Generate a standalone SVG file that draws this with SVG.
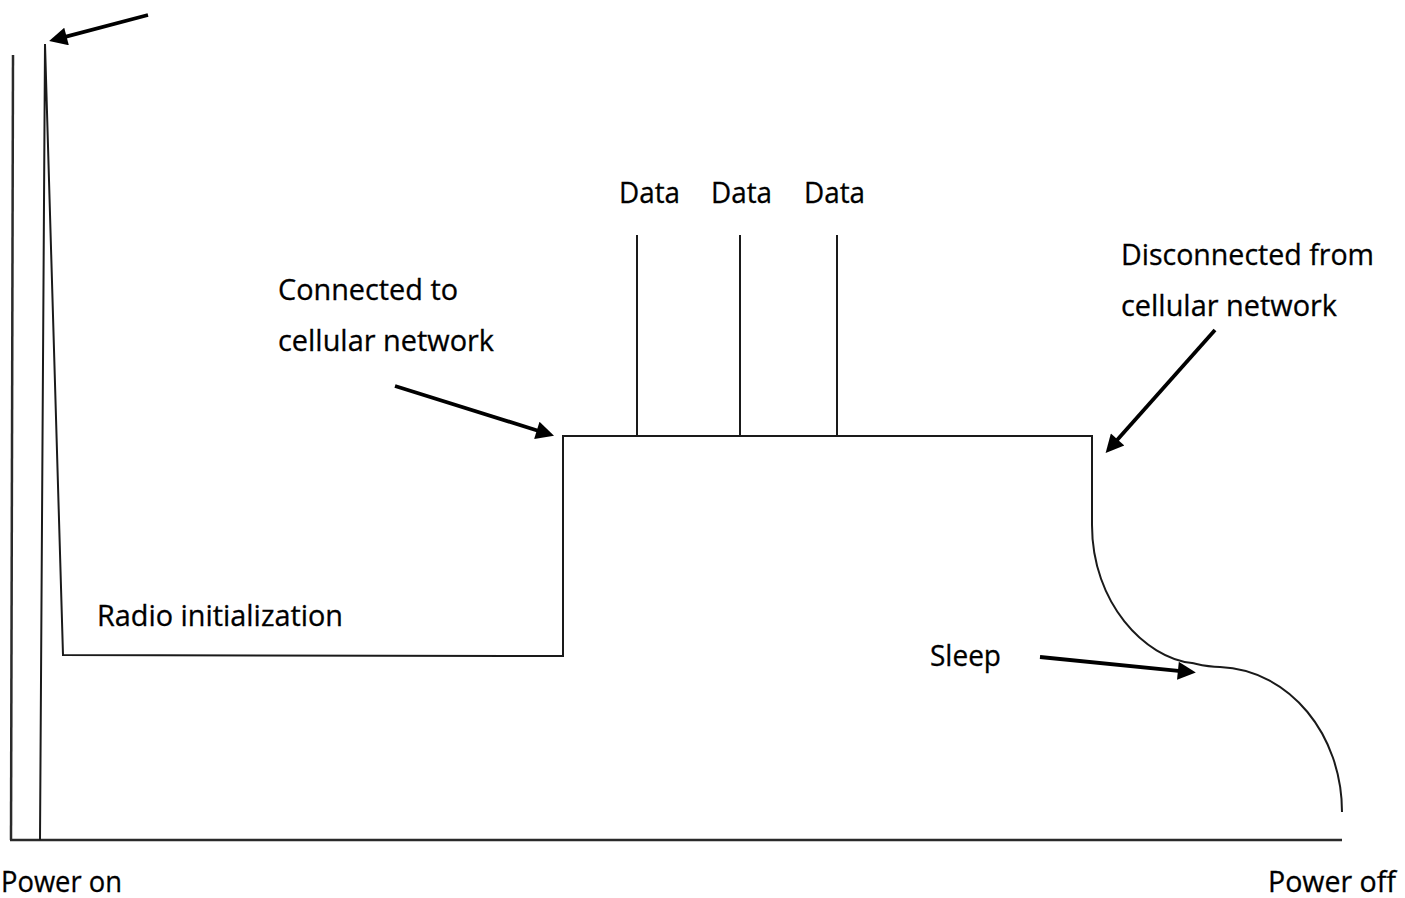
<svg xmlns="http://www.w3.org/2000/svg" width="1405" height="898" viewBox="0 0 1405 898">
<style>
.ln{fill:none;stroke:#1a1a1a;stroke-width:2;stroke-linejoin:miter}
.ax{fill:none;stroke:#2a2a2a;stroke-width:2.5}
.ar{fill:none;stroke:#000;stroke-width:3.8;marker-end:url(#ah)}
.t{font-family:"Open Sans","Noto Sans","Liberation Sans",sans-serif;font-size:29px;fill:#000;stroke:#000;stroke-width:0.3}
</style>
<defs>
<marker id="ah" viewBox="0 0 10 10" refX="3" refY="5" markerWidth="24" markerHeight="18" markerUnits="userSpaceOnUse" orient="auto">
<path d="M0,0 L10,5 L0,10 z" fill="#000"/>
</marker>
</defs>
<rect width="1405" height="898" fill="#fff"/>
<g id="axes">
<line class="ax" x1="13" y1="55" x2="11" y2="840"/>
<line class="ax" x1="10" y1="840" x2="1342" y2="840"/>
</g>
<g id="power-trace">
<path class="ln" d="M40,840 L45,44 L63,655 L563,656 L563,436 L1092,436 L1092,525 C1092,603 1145,658 1192,663 C1205,666 1208,667 1220,667 C1290,670 1342,735 1342,812"/>
</g>
<g id="data-spikes">
<line class="ln" x1="637" y1="235" x2="637" y2="436"/>
<line class="ln" x1="740" y1="235" x2="740" y2="436"/>
<line class="ln" x1="837" y1="235" x2="837" y2="436"/>
</g>
<g id="connectors">
<line class="ar" x1="148" y1="15" x2="61.3" y2="37.8"/>
<line class="ar" x1="395" y1="386" x2="542" y2="432"/>
<line class="ar" x1="1215" y1="330" x2="1114" y2="443.6"/>
<line class="ar" x1="1040" y1="657" x2="1183.3" y2="671.3"/>
</g>
<g id="labels">
<text class="t" x="619" y="203" textLength="61" lengthAdjust="spacingAndGlyphs">Data</text>
<text class="t" x="711" y="203" textLength="61" lengthAdjust="spacingAndGlyphs">Data</text>
<text class="t" x="804" y="203" textLength="61" lengthAdjust="spacingAndGlyphs">Data</text>
<text class="t" x="278" y="300" textLength="180" lengthAdjust="spacingAndGlyphs">Connected to</text>
<text class="t" x="278" y="351" textLength="216" lengthAdjust="spacingAndGlyphs">cellular network</text>
<text class="t" x="1121" y="265" textLength="253" lengthAdjust="spacingAndGlyphs">Disconnected from</text>
<text class="t" x="1121" y="316" textLength="216" lengthAdjust="spacingAndGlyphs">cellular network</text>
<text class="t" x="97" y="626" textLength="246" lengthAdjust="spacingAndGlyphs">Radio initialization</text>
<text class="t" x="930" y="666" textLength="71" lengthAdjust="spacingAndGlyphs">Sleep</text>
<text class="t" x="1" y="892" textLength="121" lengthAdjust="spacingAndGlyphs">Power on</text>
<text class="t" x="1268" y="892" textLength="128" lengthAdjust="spacingAndGlyphs">Power off</text>
</g>
</svg>
